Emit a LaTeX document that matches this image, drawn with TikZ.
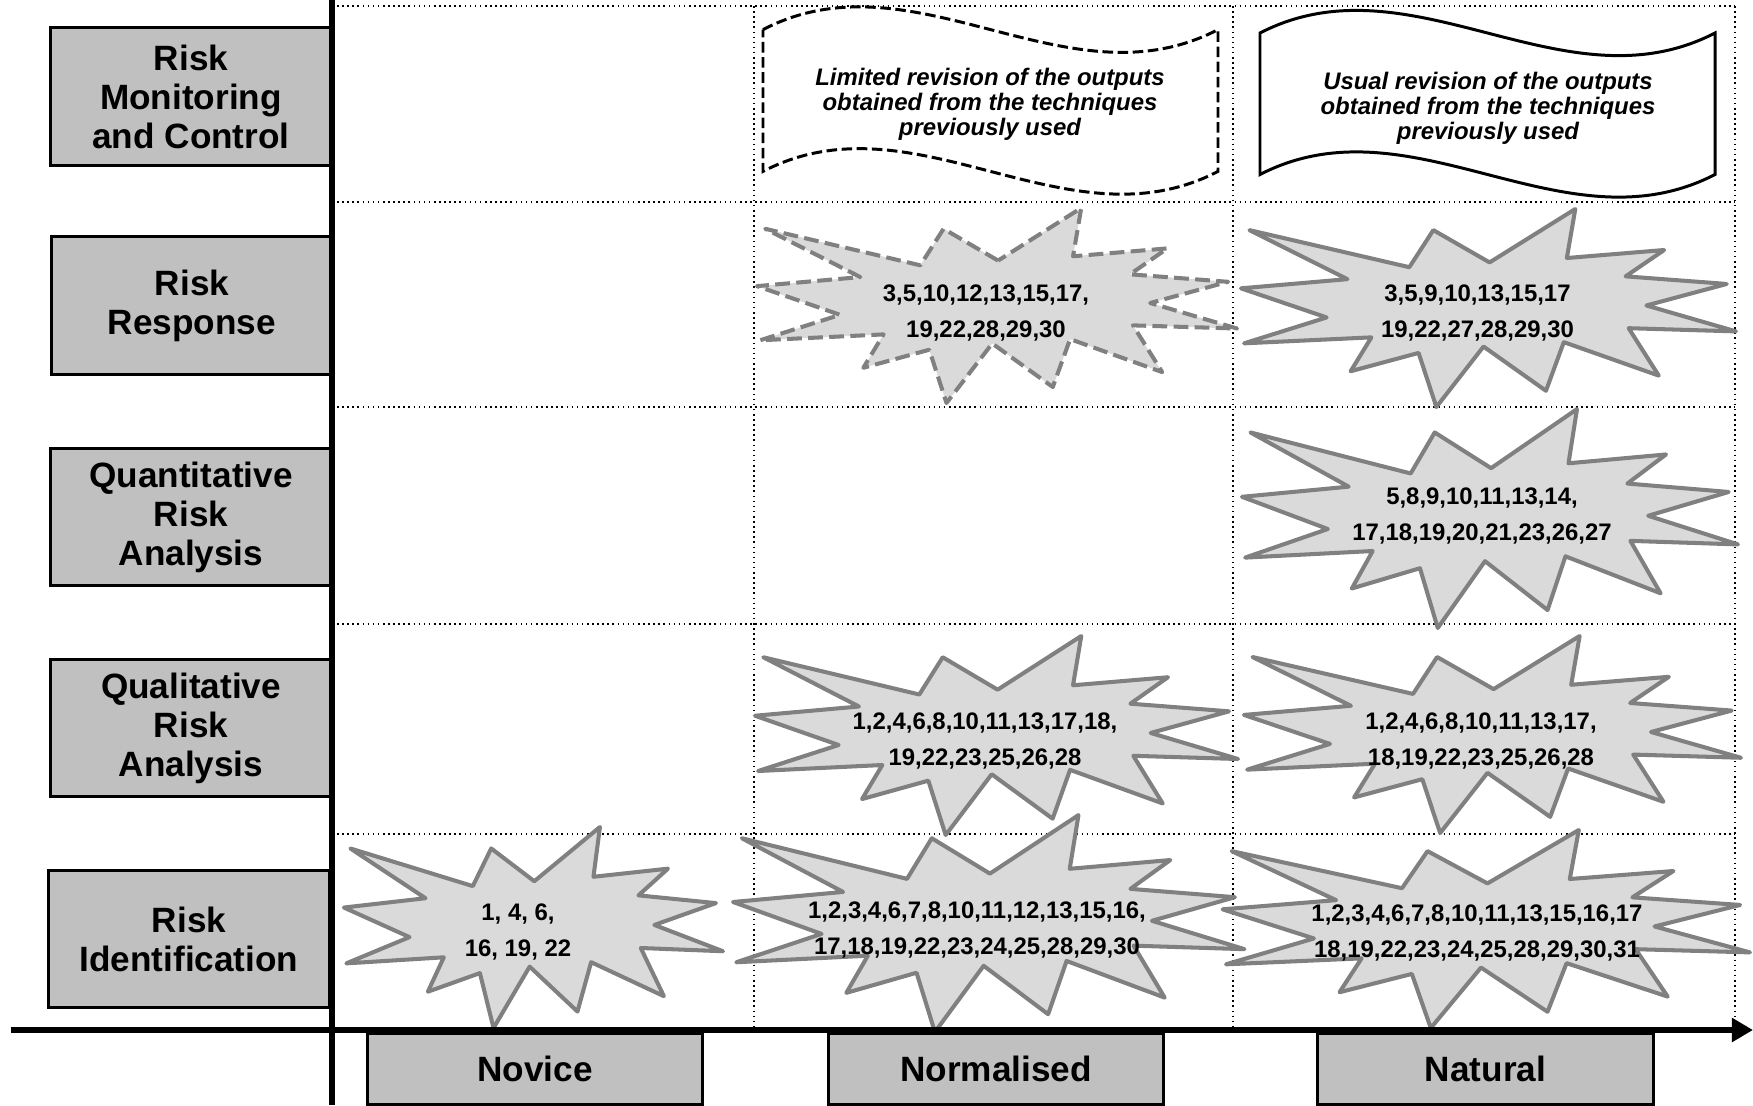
\documentclass[tikz,border=0pt]{standalone}
\usepackage{fontspec}
\setmainfont{Liberation Sans}
\usetikzlibrary{arrows.meta}

\definecolor{labelgray}{HTML}{C0C0C0}
\definecolor{boomfill}{HTML}{DADADA}
\definecolor{boomedge}{HTML}{808080}

% explosion outline, in percent of its box
\newcommand{\boompath}{(50.47,27.34) -- (39.16,11.11) -- (34.34,29.75) -- (2.20,11.11) -- (21.91,35.75) -- (0.49,40.36) -- (17.72,55.00) -- (1.13,68.00) -- (26.72,65.00) -- (22.54,82.03) -- (36.20,72.82) -- (39.77,100) -- (49.25,69.62) -- (61.80,91.85) -- (65.39,67.41) -- (84.48,84.24) -- (78.42,60.39) -- (100,62.00) -- (81.99,48.98) -- (98.14,38.16) -- (77.81,34.34) -- (85.56,21.11) -- (66.00,25.13) -- (67.70,0.49) -- cycle}

\tikzset{
  rowlabel/.style={draw=black, fill=labelgray, line width=0.85pt, minimum width=2.8cm, minimum height=1.37cm, align=center, inner sep=0pt, font=\fontsize{10}{11.1}\selectfont\bfseries},
  levellabel/.style={rowlabel, minimum width=3.35cm, minimum height=0.7cm},
  axis/.style={line width=1.7pt, black},
  gridline/.style={densely dotted, line width=0.45pt, black},
  boom/.style={draw=boomedge, fill=boomfill, line width=1.15pt, line join=round},
  boomtext/.style={align=center, inner sep=0pt, font=\fontsize{6.8}{10.5}\selectfont\bfseries},
  wave/.style={draw=black, line width=0.85pt},
  wavetext/.style={align=center, inner sep=0pt, font=\fontsize{6.8}{7.1}\selectfont\bfseries\itshape},
}

\begin{document}
\begin{tikzpicture}[x=0.01cm, y=-0.01cm]
\useasboundingbox (0,0) rectangle (1753,1105);

% grid
\foreach \y in {6,202,407,624,834}
  \draw[gridline] (332,\y) -- (1735,\y);
\foreach \x in {754,1233,1735}
  \draw[gridline] (\x,6) -- (\x,1030);

% explosions
\foreach \bx/\by/\bw/\bh in {342/826/3.81/2.02, 752.6/635/4.855/2.00, 730.5/814/5.14/2.18, 1241.5/635/4.995/1.98, 1239.5/408/4.985/2.20, 1238.5/208/4.975/1.99, 1220/829/5.30/1.99}
  \draw[boom, shift={(\bx,\by)}, xscale=\bw, yscale=\bh] \boompath;
\draw[boom, dash pattern=on 4.2pt off 1.8pt, shift={(754.6,207)}, xscale=4.825, yscale=1.96] \boompath;

\node[boomtext] (novid) at (518,932) {1, 4, 6,\\16, 19, 22};
\node[boomtext] (norid) at (977,930) {1,2,3,4,6,7,8,10,11,12,13,15,16,\\17,18,19,22,23,24,25,28,29,30};
\node[boomtext] (natid) at (1477,933) {1,2,3,4,6,7,8,10,11,13,15,16,17\\18,19,22,23,24,25,28,29,30,31};
\node[boomtext] (norql) at (985,741) {1,2,4,6,8,10,11,13,17,18,\\19,22,23,25,26,28};
\node[boomtext] (natql) at (1481,741) {1,2,4,6,8,10,11,13,17,\\18,19,22,23,25,26,28};
\node[boomtext] (natqn) at (1482,516) {5,8,9,10,11,13,14,\\17,18,19,20,21,23,26,27};
\node[boomtext] (norrr) at (986,313) {3,5,10,12,13,15,17,\\19,22,28,29,30};
\node[boomtext] (natrr) at (1477.5,313) {3,5,9,10,13,15,17\\19,22,27,28,29,30};

% waves
\draw[wave, dash pattern=on 3pt off 1.3pt] (763,29.6) .. controls (914.7,-49.2) and (1066.3,108.4) .. (1218,29.6) -- (1218,171.4) .. controls (1066.3,250.2) and (914.7,92.6) .. (763,171.4) -- cycle;
\draw[wave] (1260,33) .. controls (1411.7,-45.3) and (1563.3,111.3) .. (1715,33) -- (1715,174.5) .. controls (1563.3,252.8) and (1411.7,96.2) .. (1260,174.5) -- cycle;
\node[wavetext] (normc) at (990,104) {Limited revision of the outputs\\obtained from the techniques\\previously used};
\node[wavetext] (natmc) at (1488,108) {Usual revision of the outputs\\obtained from the techniques\\previously used};

% labels
\node[rowlabel] (rmc) at (191,96.5) {Risk\\Monitoring\\and Control};
\node[rowlabel] (rr) at (192,305.5) {Risk\\Response};
\node[rowlabel] (qnra) at (191,517) {Quantitative\\Risk\\Analysis};
\node[rowlabel] (qlra) at (191,728) {Qualitative\\Risk\\Analysis};
\node[rowlabel] (ri) at (189,939) {Risk\\Identification};

\node[levellabel] (nov) at (535,1069) {Novice};
\node[levellabel] (nor) at (996,1069) {Normalised};
\node[levellabel] (nat) at (1485.5,1069) {Natural};

% axes
\coordinate (ybot) at (332,1105);
\coordinate (ytop) at (332,0);
\coordinate (xstart) at (11,1030);
\coordinate (xend) at (1753,1030);
\draw[axis] (ybot) -- (ytop);
\draw[axis, -{Triangle[length=2.1mm, width=2.3mm]}] (xstart) -- (xend);
\end{tikzpicture}
\end{document}
